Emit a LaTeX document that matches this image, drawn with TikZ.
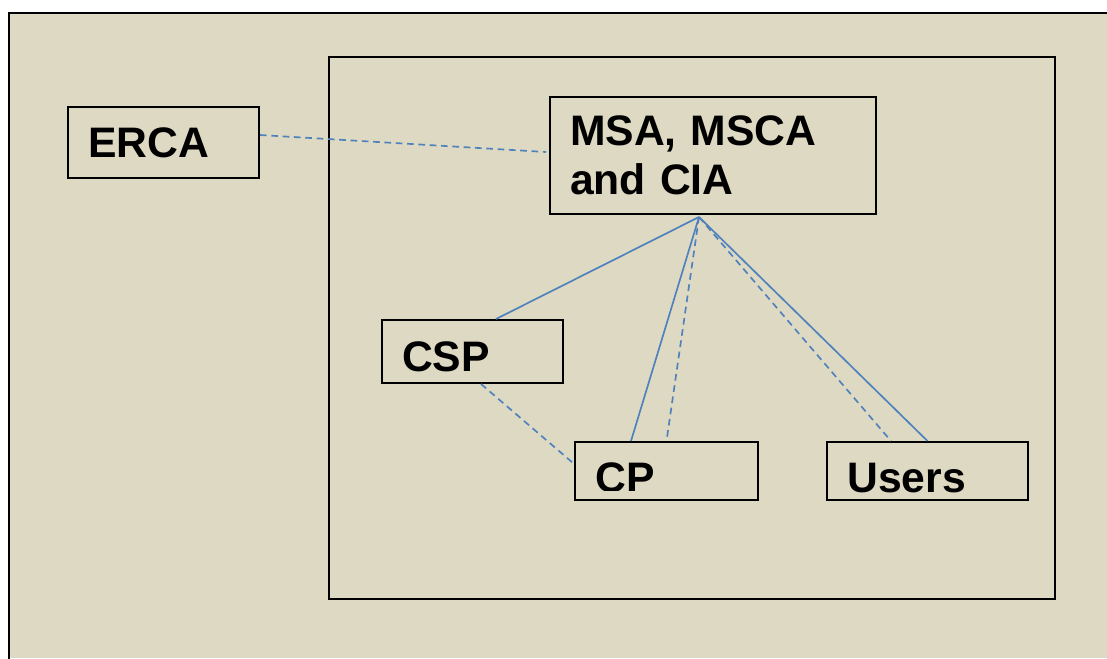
\documentclass[tikz,border=0pt]{standalone}
\usepackage{fontspec}
\setmainfont{Liberation Sans}
\usepackage{tikz}
\definecolor{paper}{RGB}{221, 217, 195}
\definecolor{link}{RGB}{79, 129, 189}
\newcommand*{\px}{0.75pt}

\begin{document}
\begin{tikzpicture}[
   x=\px, y=-\px,
   blk/.style={rectangle, draw=black, line width=1.5, text=black,
               font=\fontsize{32}{37}\selectfont\bfseries,
               align=left, inner xsep=15, inner ysep=0},
   lbl/.style={text=black, font=\fontsize{32}{37}\selectfont\bfseries,
               inner sep=0},
   solidln/.style={draw=link, line width=1.25},
   dashln/.style={draw=link, line width=1.25, dash pattern=on 5pt off 3.5pt}
  ]

  % Page and frames
  \useasboundingbox (0, 0) rectangle (1107, 658);
  \fill[paper] (9, 13) rectangle (1107, 658);
  \draw[line width=1.8] (9, 660) -- (9, 13) -- (1110, 13);
  \draw[line width=1.5] (329, 57) rectangle (1055, 599);

  % Boxes
  \node (erca) at (163.5, 142.5) [blk, minimum width=143.25, minimum height=53.25,
                                  text width=113.25] { ERCA };
  \node (msa) at (713, 155.5) [blk, minimum width=244.5, minimum height=87.75,
                               text width=214.5] { MSA, MSCA\\and CIA };
  \node (csp) at (472.5, 351.5) [blk, minimum width=135.75, minimum height=47.25,
                                 text width=105.75, text height=30.5, text depth=0] { CSP };
  \node (cp) at (666.5, 471) [blk, minimum width=137.25, minimum height=43.5] {};
  \node (users) at (927.5, 471) [blk, minimum width=150.75, minimum height=43.5] {};

  % Labels cut off at the bottom
  \begin{scope}
    \clip (cp.north west) rectangle ([shift={(0, -11)}]cp.south east);
    \node (cptext) at ([shift={(21, 21)}]cp.west) [lbl, anchor=base west] { CP };
  \end{scope}
  \begin{scope}
    \clip (users.north west) rectangle ([shift={(0, -9)}]users.south east);
    \node (userstext) at ([shift={(21, 21)}]users.west) [lbl, anchor=base west] { Users };
  \end{scope}

  % Connectors
  \coordinate (hub) at ([shift={(-14, 2)}]msa.south);
  \coordinate (csptop) at ([shift={(23.5, 0)}]csp.north);
  \coordinate (cpleft) at ([shift={(-35.5, 0)}]cp.north);
  \coordinate (usersleft) at ([shift={(-36.5, 0)}]users.north);

  \foreach \E in {csptop, cpleft, users.north} {
    \draw[solidln] (hub) -- (\E);
  }
  \foreach \E in {cp.north, usersleft} {
    \draw[dashln] (hub) -- (\E);
  }
  \draw[dashln] ([shift={(0, -7.5)}]erca.east) -- ([shift={(-3, -3.5)}]msa.west);
  \draw[dashln] ([shift={(8.5, 0)}]csp.south) -- ([shift={(-1, -8)}]cp.west);

\end{tikzpicture}
\end{document}
